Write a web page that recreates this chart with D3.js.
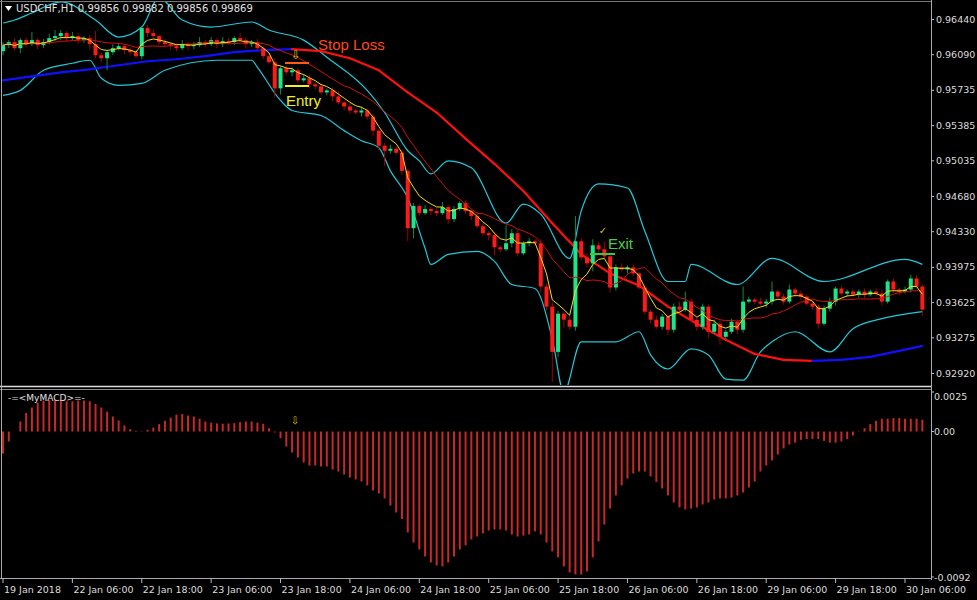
<!DOCTYPE html>
<html><head><meta charset="utf-8">
<script src="https://cdn.jsdelivr.net/npm/d3@7"></script>
<style>body{margin:0;background:#000}svg{display:block}text{font-family:"DejaVu Sans",Arial,sans-serif}</style>
</head><body><svg id="c" width="977" height="600"></svg>
<script>
// closes in units of 0.0001 (price = value / 10000)
const closePips = [9618,9621,9615,9623,9619,9623,9618,9621,9625,9627, 9630,9625,9627,9623,9625,9619,9608,9605,9611,9615,
 9617,9613,9611,9607,9635,9630,9627,9621,9619,9617, 9615,9619,9617,9618,9621,9619,9623,9619,9622,9621,
 9625,9623,9619,9621,9615,9607,9601,9575,9595,9591, 9593,9583,9585,9579,9577,9571,9573,9567,9561,9557,
 9553,9551,9553,9547,9533,9518,9513,9515,9511,9493, 9436,9458,9451,9455,9453,9451,9457,9445,9455,9461,
 9453,9448,9438,9431,9429,9417,9415,9421,9431,9411, 9421,9423,9421,9378,9358,9313,9351,9345,9338,9423,
 9407,9401,9419,9415,9408,9377,9397,9395,9397,9391, 9377,9353,9345,9338,9348,9335,9358,9355,9363,9345,
 9338,9358,9333,9341,9328,9333,9343,9335,9363,9365, 9363,9361,9363,9373,9368,9363,9375,9371,9368,9361,
 9358,9341,9356,9363,9376,9371,9373,9370,9373,9370, 9373,9371,9363,9383,9375,9373,9375,9386,9378,9355];
const firstOpenPips = 9612;
const wickUp = [3,2,4,2,3,8,2,3,4,6, 3,2,4,3,2,3,13,3,2,4, 3,2,3,2,2,3,4,2,3,2, 3,4,2,3,5,2,3,2,4,3, 2,5,3,2,3,2,3,4,2,3, 3,2,4,3,2,3,2,3,5,2, 3,2,4,2,3,2,3,4,2,3, 2,3,2,4,2,3,5,2,3,2, 3,2,4,3,2,3,2,18,4,3, 2,3,2,4,3,5,3,2,4,25, 3,4,6,3,8,2,3,4,2,3, 2,3,2,4,3,2,3,5,10,3, 2,3,2,4,3,2,3,2,15,3, 2,4,3,10,2,3,5,2,3,2, 3,2,3,4,2,3,2,3,2,3, 2,3,4,2,3,2,3,4,3,2];
const wickDn = [4,3,2,5,3,2,4,3,2,3, 4,3,2,4,3,5,3,4,12,3, 2,4,3,2,3,4,2,3,2,4, 3,2,4,3,2,3,2,4,3,2, 3,2,4,3,2,3,2,9,6,3, 4,3,2,4,3,2,3,5,2,4, 3,2,4,3,5,4,15,3,2,4, 13,10,3,2,4,3,2,5,3,2, 3,4,2,3,5,8,3,2,4,3, 2,3,2,6,4,30,5,8,3,4, 3,4,8,3,2,5,3,2,4,3, 2,3,4,2,3,5,3,4,2,3, 4,3,6,2,8,3,2,4,3,2, 3,2,4,3,2,3,2,4,3,2, 3,5,2,3,4,2,3,2,3,4, 2,3,4,2,3,4,2,3,2,6];
// long moving average, sampled every 5 bars
const sampleBars = [0,5,10,15,20,25,30,35,40,45,50,55,60,65,70,75,80,85,90,95,100,105,110,115,120,125,130,135,140,145,150,155,159];
const longMAPips = [9583,9587,9591,9594,9598,9602,9604,9607,9611,9613,9614,9612,9605,9593,9571,9551,9525,9500,9473,9441,9410,9391,9379,9358,9341,9325,9311,9305,9304,9305,9308,9314,9319];
// Bollinger bands, sampled at turning points
const bandUpBars = [0,2,5,10,16,20,24,27,31,36,43,46,52,56,63,66,70,72,74,77,81,87,90,93,98,100,103,108,111,115,118,119,127,133,142,156,159];
const bandUpPips = [9640,9643,9650,9661,9643,9626,9636,9665,9643,9636,9641,9633,9623,9606,9573,9551,9513,9503,9490,9503,9496,9441,9460,9450,9406,9453,9480,9476,9433,9383,9383,9400,9380,9406,9383,9405,9400];
const bandDnBars = [0,3,7,12,15,17,20,24,28,37,43,44,48,50,55,59,62,65,67,70,73,74,77,82,85,88,92,95,97,100,106,110,112,115,119,122,125,128,131,133,137,143,147,152,159];
const bandDnPips = [9568,9573,9593,9600,9603,9585,9578,9580,9593,9603,9603,9596,9563,9553,9548,9533,9523,9516,9493,9466,9416,9400,9410,9413,9403,9380,9376,9326,9273,9323,9323,9333,9310,9296,9316,9310,9286,9285,9313,9323,9333,9313,9336,9346,9353];
// MACD histogram in units of 0.0001
const macdU = [-13.9,-6.3,0,6.3,11.7,15.2,18.3,19.6,19.8,19.8, 19.8,19.1,19.1,19.6,19.6,19.1,17.4,15.2,12.6,9.5,
 7,3.8,1.5,0.4,0.2,1.1,2.5,4.7,6.8,8.8, 10.7,11.1,10.1,9.5,8.1,6.3,5.6,5.1,4.9,5.1,
 5.3,5.9,6.3,6.3,5.6,4.9,2.1,-0.6,-4.2,-9.5, -13.3,-16.4,-19.6,-21.5,-21.5,-22.1,-22.1,-24,-25.3,-27.2,
 -29.1,-30.3,-31.6,-34.1,-37.3,-39.2,-42.3,-46.8,-51.2,-55.3, -63.8,-70.2,-74.6,-79,-82.8,-84.7,-85.3,-82.8,-79,-74.6,
 -72,-68.3,-66.4,-64.5,-62.6,-61.9,-61.9,-62.6,-65.1,-66.4, -65.8,-65.1,-63.2,-65.1,-70.2,-75.8,-79.6,-85.3,-89.1,-90.4,
 -90.4,-88.5,-79.6,-69.5,-58.8,-48.7,-40.4,-34.1,-29.7,-26.5, -25.3,-25.3,-28.4,-31.9,-36,-40.4,-44.9,-48,-49.3,-48.7,
 -48,-46.1,-44.9,-43,-42.3,-42.3,-41.7,-40.4,-38.6,-35.4, -31.6,-25.3,-21.5,-18.3,-14.5,-10.7,-8.2,-7,-5.3,-4.7,
 -4.7,-4.7,-5.9,-7,-7,-6.3,-4.7,-2.5,0.2,2.1, 4.7,6.8,8.1,8.1,8.5,8.5,8.1,8.1,8.1,7.5];
const priceTicks = [0.96440,0.96090,0.95735,0.95385,0.95035,0.94680,0.94330,0.93975,0.93625,0.93275,0.92920];
const macdTicks = [0.0025,0.0,-0.0092];
const macdTickLabels = ["0.0025","0.00","-0.0092"];
const timeLabels = ["19 Jan 2018","22 Jan 06:00","22 Jan 18:00","23 Jan 06:00","23 Jan 18:00","24 Jan 06:00","24 Jan 18:00","25 Jan 06:00","25 Jan 18:00","26 Jan 06:00","26 Jan 18:00","29 Jan 06:00","29 Jan 18:00","30 Jan 06:00"];
const labelEveryBars = 12;
const header = "USDCHF,H1  0.99856 0.99882 0.99856 0.99869";

const p = v => v/10000;
const closes = closePips.map(p);
const opens = closes.map((c,i)=> i===0 ? p(firstOpenPips) : closes[i-1]);
const bars = closes.map((c,i)=>({i,o:opens[i],c,h:Math.max(opens[i],c)+p(wickUp[i]),l:Math.min(opens[i],c)-p(wickDn[i])}));
function ema(arr,n){const k=2/(n+1);let e=arr[0];return arr.map(v=>e=v*k+e*(1-k));}
function sma(arr,n){return arr.map((v,i)=>{const s=arr.slice(Math.max(0,i-n+1),i+1);return d3.mean(s);});}
const fast = ema(closes,5), mid = sma(closes,13);

const svg = d3.select("#c");
const W=931;
const x = d3.scaleLinear().domain([0,156]).range([3,905]);
const y = d3.scaleLinear().domain([0.92920,0.96440]).range([373,19]);
const ym = d3.scaleLinear().domain([-0.0092,0.0025]).range([577,392]);

svg.append("rect").attr("x",0).attr("y",0).attr("width",977).attr("height",600).attr("fill","#000");
const g = svg.append("g");
g.append("defs").append("clipPath").attr("id","cp").append("rect").attr("x",1).attr("y",1).attr("width",W-1).attr("height",384);
const main = g.append("g").attr("clip-path","url(#cp)");

// bands
function bandPath(bs,vals){return d3.line().x((d,k)=>x(bs[k])).y(d=>y(p(d))).curve(d3.curveMonotoneX)(vals);}
main.append("path").attr("d",bandPath(bandUpBars,bandUpPips)).attr("fill","none").attr("stroke","#22c8d8").attr("stroke-width",1.2);
main.append("path").attr("d",bandPath(bandDnBars,bandDnPips)).attr("fill","none").attr("stroke","#22c8d8").attr("stroke-width",1.2);

// long MA coloured by slope
for(let k=0;k<longMAPips.length-1;k++){
  const rising = longMAPips[k+1]>=longMAPips[k];
  main.append("path").attr("d",d3.line().x(j=>x(sampleBars[j])).y(j=>y(p(longMAPips[j])))([k,k+1]))
   .attr("fill","none").attr("stroke",rising?"#1010ff":"#ff1010").attr("stroke-width",2.2).attr("stroke-linecap","round");
}

// candles
const cg = main.append("g");
bars.forEach(b=>{
  const up=b.c>=b.o;
  cg.append("line").attr("x1",x(b.i)).attr("x2",x(b.i)).attr("y1",y(b.h)).attr("y2",y(b.l))
    .attr("stroke",up?"#0e8a4a":"#a00000").attr("stroke-width",1);
  const top=y(Math.max(b.o,b.c)), bot=y(Math.min(b.o,b.c));
  cg.append("rect").attr("x",x(b.i)-2).attr("width",4).attr("y",top).attr("height",Math.max(1,bot-top))
    .attr("fill",up?"#1de58a":"#ff1a1a");
});
const ml = d3.line().x((d,i)=>x(i)).y(d=>y(d));
main.append("path").attr("d",ml(mid)).attr("fill","none").attr("stroke","#d01010").attr("stroke-width",1);
main.append("path").attr("d",ml(fast)).attr("fill","none").attr("stroke","#f0e020").attr("stroke-width",1);

// annotations
const ann = g.append("g");
ann.append("line").attr("x1",285).attr("x2",309).attr("y1",63).attr("y2",63).attr("stroke","#ff5a1a").attr("stroke-width",2);
ann.append("text").attr("x",318).attr("y",50).attr("fill","#ff4a1a").attr("font-size",15).style("font-family","Arial,'Liberation Sans'").text("Stop Loss");
ann.append("text").attr("x",296).attr("y",59).attr("fill","#d8c020").attr("font-size",12).attr("text-anchor","middle").text("⇩");
ann.append("line").attr("x1",285).attr("x2",309).attr("y1",86).attr("y2",86).attr("stroke","#f0f020").attr("stroke-width",2);
ann.append("text").attr("x",286).attr("y",106).attr("fill","#f0f020").attr("font-size",15).style("font-family","Arial,'Liberation Sans'").text("Entry");
ann.append("line").attr("x1",590).attr("x2",615).attr("y1",254).attr("y2",254).attr("stroke","#3ac83a").attr("stroke-width",2);
ann.append("text").attr("x",608).attr("y",249).attr("fill","#4ccc4c").attr("font-size",15).style("font-family","Arial,'Liberation Sans'").text("Exit");
ann.append("text").attr("x",603).attr("y",234).attr("fill","#d8c020").attr("font-size",10).attr("text-anchor","middle").text("✓");

g.append("path").attr("d","M5,6 L12,6 L8.5,11 Z").attr("fill","#fff");
g.append("text").attr("x",16).attr("y",12).attr("fill","#e0e0e0").attr("font-size",10).text(header);

g.append("line").attr("x1",0).attr("x2",W).attr("y1",386.5).attr("y2",386.5).attr("stroke","#ddd").attr("stroke-width",1.5);
g.append("line").attr("x1",0).attr("x2",W).attr("y1",389.5).attr("y2",389.5).attr("stroke","#888").attr("stroke-width",1);
g.append("line").attr("x1",W+0.5).attr("x2",W+0.5).attr("y1",0).attr("y2",580).attr("stroke","#aaa");
g.append("line").attr("x1",0).attr("x2",W).attr("y1",578.5).attr("y2",578.5).attr("stroke","#aaa");
g.append("line").attr("x1",1.5).attr("x2",1.5).attr("y1",0).attr("y2",578).attr("stroke","#aaa");
g.append("line").attr("x1",0).attr("x2",W).attr("y1",1.5).attr("y2",1.5).attr("stroke","#777");

const pa = g.append("g").attr("transform",`translate(${W},0)`).call(d3.axisRight(y).tickValues(priceTicks).tickFormat(d3.format(".5f")).tickSize(3));
pa.select(".domain").remove();
pa.selectAll("line").attr("stroke","#bbb");
pa.selectAll("text").attr("fill","#ddd").attr("font-size",9.5).attr("x",5);

const mg = g.append("g");
macdU.forEach((v,i)=>{
  mg.append("line").attr("x1",x(i)).attr("x2",x(i)).attr("y1",ym(0)).attr("y2",ym(v*1e-4)).attr("stroke","#c82828").attr("stroke-width",2);
});
mg.append("text").attr("x",8).attr("y",401).attr("fill","#e0e0e0").attr("font-size",9).text("-=<MyMACD>=-");
mg.append("text").attr("x",295).attr("y",424).attr("fill","#d8c020").attr("font-size",10).attr("text-anchor","middle").text("⇩");
macdTicks.forEach((t,k)=>{
  const yy = k===0?396:(k===2?577:ym(t));
  g.append("line").attr("x1",W).attr("x2",W+3).attr("y1",ym(t)).attr("y2",ym(t)).attr("stroke","#bbb");
  g.append("text").attr("x",W+3).attr("y",yy+3.5).attr("fill","#ddd").attr("font-size",9.5).text(macdTickLabels[k]);
});

timeLabels.forEach((t,k)=>{
  const xx = x(k*labelEveryBars);
  g.append("line").attr("x1",xx).attr("x2",xx).attr("y1",578).attr("y2",583).attr("stroke","#bbb");
  g.append("text").attr("x",xx+1).attr("y",593).attr("fill","#ddd").attr("font-size",9.5).text(t);
});
</script></body></html>
